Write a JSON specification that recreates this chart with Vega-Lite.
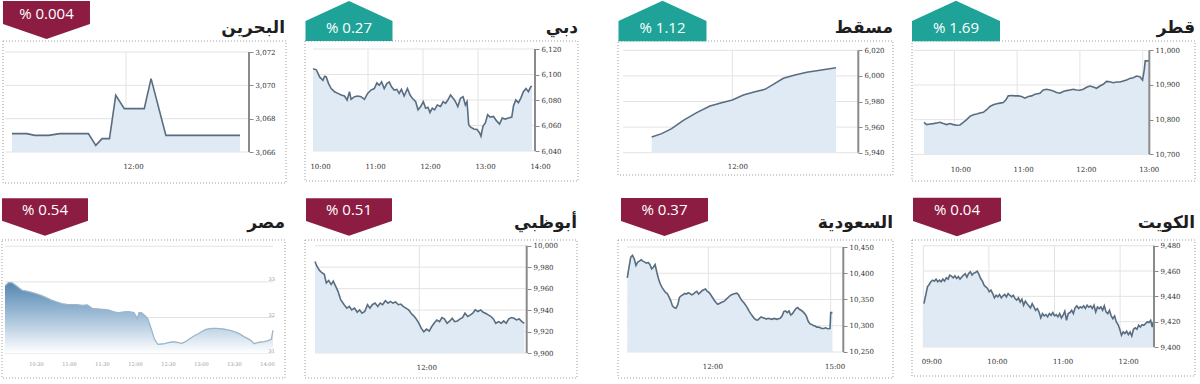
{
"$schema":"https://vega.github.io/schema/vega-lite/v6.json",
"padding":0,
"background":"white",
"config":{"view":{"stroke":null},"axis":{"domain":false,"grid":false,"labelFont":"DejaVu Serif","labelFontSize":7,"labelColor":"#333","tickColor":"#8a8a8a","tickSize":4,"labelPadding":2,"labelOverlap":false,"labelFlush":false,"labelBound":false,"zindex":1}},
"datasets":{
"bh":[{"t":10.0,"v":3067.1},{"t":10.26,"v":3067.1},{"t":10.4,"v":3067.0},{"t":10.64,"v":3067.0},{"t":10.84,"v":3067.1},{"t":11.34,"v":3067.1},{"t":11.47,"v":3066.4},{"t":11.58,"v":3066.8},{"t":11.71,"v":3066.8},{"t":11.82,"v":3069.4},{"t":11.97,"v":3068.6},{"t":12.32,"v":3068.6},{"t":12.44,"v":3070.4},{"t":12.7,"v":3067.0},{"t":14.0,"v":3067.0}],
"db":[{"t":10.0,"v":6104.5},{"t":10.06,"v":6103.7},{"t":10.12,"v":6098.1},{"t":10.181,"v":6095.5},{"t":10.211,"v":6098.6},{"t":10.241,"v":6098.1},{"t":10.283,"v":6092.9},{"t":10.331,"v":6089.0},{"t":10.392,"v":6086.5},{"t":10.452,"v":6085.2},{"t":10.512,"v":6083.9},{"t":10.572,"v":6083.1},{"t":10.62,"v":6080.0},{"t":10.663,"v":6086.5},{"t":10.693,"v":6080.5},{"t":10.753,"v":6082.6},{"t":10.813,"v":6083.1},{"t":10.873,"v":6082.6},{"t":10.934,"v":6080.5},{"t":10.994,"v":6085.2},{"t":11.054,"v":6087.8},{"t":11.114,"v":6089.0},{"t":11.163,"v":6093.4},{"t":11.205,"v":6091.6},{"t":11.247,"v":6094.2},{"t":11.295,"v":6089.0},{"t":11.343,"v":6092.9},{"t":11.386,"v":6094.2},{"t":11.428,"v":6090.3},{"t":11.476,"v":6087.8},{"t":11.524,"v":6088.3},{"t":11.566,"v":6085.2},{"t":11.608,"v":6088.3},{"t":11.657,"v":6083.1},{"t":11.717,"v":6089.0},{"t":11.765,"v":6083.9},{"t":11.807,"v":6081.3},{"t":11.867,"v":6078.7},{"t":11.91,"v":6072.3},{"t":11.958,"v":6074.9},{"t":12.006,"v":6078.7},{"t":12.048,"v":6073.6},{"t":12.09,"v":6074.3},{"t":12.127,"v":6070.2},{"t":12.169,"v":6073.6},{"t":12.211,"v":6072.3},{"t":12.259,"v":6076.1},{"t":12.319,"v":6074.9},{"t":12.367,"v":6078.7},{"t":12.41,"v":6077.4},{"t":12.452,"v":6080.0},{"t":12.5,"v":6083.9},{"t":12.548,"v":6081.3},{"t":12.59,"v":6078.7},{"t":12.633,"v":6074.9},{"t":12.681,"v":6081.3},{"t":12.729,"v":6082.6},{"t":12.771,"v":6076.1},{"t":12.801,"v":6078.7},{"t":12.831,"v":6060.7},{"t":12.861,"v":6058.9},{"t":12.922,"v":6057.3},{"t":12.982,"v":6056.8},{"t":13.03,"v":6054.2},{"t":13.054,"v":6051.6},{"t":13.09,"v":6059.4},{"t":13.133,"v":6062.0},{"t":13.175,"v":6068.4},{"t":13.223,"v":6066.6},{"t":13.283,"v":6067.1},{"t":13.331,"v":6064.0},{"t":13.392,"v":6061.2},{"t":13.44,"v":6065.8},{"t":13.494,"v":6065.0},{"t":13.554,"v":6065.8},{"t":13.614,"v":6066.6},{"t":13.645,"v":6075.4},{"t":13.687,"v":6080.0},{"t":13.735,"v":6077.9},{"t":13.777,"v":6081.3},{"t":13.825,"v":6086.5},{"t":13.873,"v":6089.0},{"t":13.916,"v":6086.5},{"t":13.958,"v":6090.3},{"t":13.982,"v":6090.8}],
"ms":[{"t":10.0,"v":5952.3},{"t":10.247,"v":5954.9},{"t":10.495,"v":5958.8},{"t":10.785,"v":5965.3},{"t":11.116,"v":5971.3},{"t":11.446,"v":5976.5},{"t":11.736,"v":5979.1},{"t":12.001,"v":5981.2},{"t":12.274,"v":5985.1},{"t":12.563,"v":5987.7},{"t":12.811,"v":5989.5},{"t":13.018,"v":5993.4},{"t":13.266,"v":5998.1},{"t":13.556,"v":6000.7},{"t":13.845,"v":6002.8},{"t":14.176,"v":6004.4},{"t":14.573,"v":6006.4}],
"qa":[{"t":9.517,"v":10792.4},{"t":9.56,"v":10785.7},{"t":9.613,"v":10787.6},{"t":9.666,"v":10788.6},{"t":9.719,"v":10790.5},{"t":9.772,"v":10792.4},{"t":9.825,"v":10788.6},{"t":9.878,"v":10785.7},{"t":9.931,"v":10788.6},{"t":9.984,"v":10785.7},{"t":10.037,"v":10783.8},{"t":10.09,"v":10784.8},{"t":10.143,"v":10792.4},{"t":10.196,"v":10800.0},{"t":10.249,"v":10809.5},{"t":10.302,"v":10814.3},{"t":10.355,"v":10816.2},{"t":10.408,"v":10819.0},{"t":10.462,"v":10821.0},{"t":10.515,"v":10828.6},{"t":10.568,"v":10838.1},{"t":10.621,"v":10842.9},{"t":10.674,"v":10845.7},{"t":10.727,"v":10847.6},{"t":10.78,"v":10849.5},{"t":10.822,"v":10857.1},{"t":10.859,"v":10868.6},{"t":10.912,"v":10869.5},{"t":10.966,"v":10868.6},{"t":11.019,"v":10868.6},{"t":11.072,"v":10866.7},{"t":11.125,"v":10861.9},{"t":11.178,"v":10866.7},{"t":11.231,"v":10868.6},{"t":11.284,"v":10873.3},{"t":11.363,"v":10876.2},{"t":11.416,"v":10885.7},{"t":11.469,"v":10887.6},{"t":11.523,"v":10885.7},{"t":11.576,"v":10882.9},{"t":11.629,"v":10878.1},{"t":11.682,"v":10876.2},{"t":11.735,"v":10881.0},{"t":11.788,"v":10883.8},{"t":11.841,"v":10885.7},{"t":11.894,"v":10887.6},{"t":11.947,"v":10885.7},{"t":12.0,"v":10884.8},{"t":12.053,"v":10887.6},{"t":12.106,"v":10893.3},{"t":12.159,"v":10897.1},{"t":12.212,"v":10894.3},{"t":12.265,"v":10890.5},{"t":12.318,"v":10897.1},{"t":12.371,"v":10901.9},{"t":12.424,"v":10910.5},{"t":12.477,"v":10909.5},{"t":12.531,"v":10906.7},{"t":12.584,"v":10908.6},{"t":12.637,"v":10908.6},{"t":12.69,"v":10911.4},{"t":12.743,"v":10914.3},{"t":12.796,"v":10919.0},{"t":12.849,"v":10921.0},{"t":12.902,"v":10925.7},{"t":12.955,"v":10923.8},{"t":12.997,"v":10914.3},{"t":13.024,"v":10942.9},{"t":13.04,"v":10969.5},{"t":13.1,"v":10969.5}],
"eg":[{"t":10.03,"v":32.885},{"t":10.082,"v":32.979},{"t":10.134,"v":32.979},{"t":10.187,"v":32.913},{"t":10.239,"v":32.838},{"t":10.291,"v":32.763},{"t":10.343,"v":32.745},{"t":10.421,"v":32.716},{"t":10.499,"v":32.67},{"t":10.577,"v":32.623},{"t":10.655,"v":32.557},{"t":10.733,"v":32.492},{"t":10.811,"v":32.436},{"t":10.889,"v":32.389},{"t":10.967,"v":32.37},{"t":11.045,"v":32.361},{"t":11.124,"v":32.361},{"t":11.202,"v":32.342},{"t":11.28,"v":32.351},{"t":11.358,"v":32.248},{"t":11.436,"v":32.239},{"t":11.514,"v":32.23},{"t":11.592,"v":32.211},{"t":11.67,"v":32.164},{"t":11.748,"v":32.127},{"t":11.826,"v":32.155},{"t":11.905,"v":32.164},{"t":11.983,"v":32.136},{"t":12.035,"v":31.977},{"t":12.061,"v":32.136},{"t":12.097,"v":32.136},{"t":12.139,"v":32.07},{"t":12.191,"v":31.977},{"t":12.243,"v":31.696},{"t":12.295,"v":31.387},{"t":12.347,"v":31.246},{"t":12.399,"v":31.256},{"t":12.451,"v":31.265},{"t":12.503,"v":31.293},{"t":12.555,"v":31.312},{"t":12.607,"v":31.312},{"t":12.659,"v":31.293},{"t":12.711,"v":31.275},{"t":12.764,"v":31.321},{"t":12.816,"v":31.387},{"t":12.868,"v":31.452},{"t":12.92,"v":31.509},{"t":12.972,"v":31.556},{"t":13.024,"v":31.621},{"t":13.076,"v":31.668},{"t":13.128,"v":31.687},{"t":13.18,"v":31.696},{"t":13.232,"v":31.696},{"t":13.284,"v":31.687},{"t":13.336,"v":31.677},{"t":13.388,"v":31.659},{"t":13.44,"v":31.64},{"t":13.492,"v":31.612},{"t":13.545,"v":31.574},{"t":13.597,"v":31.527},{"t":13.649,"v":31.462},{"t":13.701,"v":31.415},{"t":13.753,"v":31.359},{"t":13.805,"v":31.265},{"t":13.857,"v":31.293},{"t":13.909,"v":31.312},{"t":13.961,"v":31.321},{"t":14.013,"v":31.349},{"t":14.065,"v":31.387},{"t":14.091,"v":31.64}],
"ad":[{"t":10.0,"v":9985.2},{"t":10.033,"v":9981.1},{"t":10.086,"v":9977.0},{"t":10.132,"v":9974.8},{"t":10.178,"v":9973.3},{"t":10.217,"v":9965.4},{"t":10.263,"v":9967.6},{"t":10.309,"v":9963.8},{"t":10.349,"v":9967.0},{"t":10.395,"v":9962.3},{"t":10.441,"v":9957.5},{"t":10.493,"v":9949.7},{"t":10.559,"v":9945.0},{"t":10.612,"v":9941.8},{"t":10.658,"v":9943.4},{"t":10.704,"v":9940.2},{"t":10.757,"v":9941.8},{"t":10.809,"v":9938.0},{"t":10.855,"v":9940.2},{"t":10.901,"v":9937.1},{"t":10.954,"v":9938.7},{"t":11.007,"v":9945.0},{"t":11.053,"v":9941.8},{"t":11.099,"v":9945.0},{"t":11.151,"v":9946.5},{"t":11.204,"v":9943.4},{"t":11.25,"v":9946.5},{"t":11.296,"v":9945.0},{"t":11.349,"v":9948.7},{"t":11.401,"v":9946.5},{"t":11.447,"v":9948.1},{"t":11.493,"v":9946.5},{"t":11.546,"v":9947.5},{"t":11.599,"v":9945.0},{"t":11.645,"v":9945.6},{"t":11.691,"v":9943.4},{"t":11.743,"v":9941.8},{"t":11.796,"v":9940.2},{"t":11.842,"v":9937.1},{"t":11.888,"v":9934.9},{"t":11.941,"v":9931.8},{"t":11.993,"v":9927.7},{"t":12.039,"v":9922.9},{"t":12.086,"v":9919.8},{"t":12.138,"v":9922.3},{"t":12.191,"v":9920.4},{"t":12.237,"v":9924.5},{"t":12.283,"v":9927.7},{"t":12.336,"v":9930.8},{"t":12.388,"v":9929.2},{"t":12.434,"v":9933.0},{"t":12.48,"v":9931.8},{"t":12.533,"v":9927.7},{"t":12.586,"v":9929.9},{"t":12.632,"v":9932.4},{"t":12.678,"v":9929.2},{"t":12.73,"v":9929.9},{"t":12.783,"v":9931.8},{"t":12.829,"v":9933.0},{"t":12.875,"v":9937.1},{"t":12.928,"v":9934.0},{"t":12.98,"v":9935.5},{"t":13.026,"v":9937.1},{"t":13.072,"v":9940.2},{"t":13.125,"v":9938.7},{"t":13.178,"v":9940.2},{"t":13.224,"v":9938.0},{"t":13.27,"v":9937.1},{"t":13.322,"v":9935.5},{"t":13.375,"v":9934.0},{"t":13.421,"v":9931.8},{"t":13.467,"v":9927.7},{"t":13.52,"v":9929.2},{"t":13.572,"v":9927.7},{"t":13.618,"v":9929.9},{"t":13.665,"v":9927.7},{"t":13.717,"v":9931.8},{"t":13.77,"v":9933.0},{"t":13.816,"v":9932.4},{"t":13.862,"v":9930.8},{"t":13.915,"v":9931.8},{"t":13.967,"v":9929.2},{"t":14.013,"v":9927.7}],
"sa":[{"t":10.014,"v":10391.0},{"t":10.057,"v":10411.5},{"t":10.099,"v":10430.8},{"t":10.142,"v":10434.0},{"t":10.185,"v":10427.6},{"t":10.227,"v":10414.7},{"t":10.27,"v":10421.2},{"t":10.312,"v":10423.1},{"t":10.355,"v":10425.6},{"t":10.398,"v":10423.1},{"t":10.44,"v":10421.2},{"t":10.483,"v":10419.2},{"t":10.526,"v":10420.5},{"t":10.568,"v":10416.7},{"t":10.611,"v":10408.3},{"t":10.653,"v":10411.5},{"t":10.696,"v":10416.7},{"t":10.739,"v":10401.9},{"t":10.781,"v":10389.1},{"t":10.824,"v":10379.5},{"t":10.866,"v":10373.1},{"t":10.909,"v":10367.9},{"t":10.952,"v":10363.5},{"t":10.994,"v":10361.5},{"t":11.037,"v":10355.1},{"t":11.08,"v":10347.4},{"t":11.122,"v":10337.8},{"t":11.165,"v":10334.6},{"t":11.207,"v":10333.3},{"t":11.25,"v":10339.7},{"t":11.293,"v":10353.9},{"t":11.335,"v":10357.1},{"t":11.378,"v":10359.0},{"t":11.42,"v":10361.5},{"t":11.463,"v":10360.3},{"t":11.506,"v":10362.8},{"t":11.548,"v":10361.5},{"t":11.591,"v":10359.0},{"t":11.634,"v":10360.3},{"t":11.676,"v":10363.5},{"t":11.719,"v":10365.4},{"t":11.761,"v":10360.3},{"t":11.804,"v":10363.5},{"t":11.847,"v":10366.7},{"t":11.889,"v":10368.6},{"t":11.932,"v":10369.9},{"t":11.974,"v":10365.4},{"t":12.017,"v":10363.5},{"t":12.06,"v":10359.0},{"t":12.102,"v":10353.9},{"t":12.145,"v":10348.7},{"t":12.188,"v":10344.2},{"t":12.23,"v":10341.0},{"t":12.273,"v":10342.3},{"t":12.315,"v":10344.2},{"t":12.358,"v":10345.5},{"t":12.401,"v":10347.4},{"t":12.443,"v":10350.6},{"t":12.486,"v":10353.9},{"t":12.528,"v":10357.1},{"t":12.571,"v":10359.0},{"t":12.614,"v":10360.3},{"t":12.656,"v":10361.5},{"t":12.699,"v":10362.2},{"t":12.742,"v":10359.0},{"t":12.784,"v":10352.6},{"t":12.827,"v":10347.4},{"t":12.869,"v":10344.2},{"t":12.912,"v":10339.7},{"t":12.955,"v":10334.6},{"t":12.997,"v":10328.2},{"t":13.04,"v":10323.1},{"t":13.082,"v":10318.6},{"t":13.125,"v":10314.1},{"t":13.168,"v":10311.5},{"t":13.21,"v":10310.9},{"t":13.253,"v":10314.1},{"t":13.296,"v":10316.7},{"t":13.338,"v":10315.4},{"t":13.381,"v":10314.1},{"t":13.423,"v":10312.8},{"t":13.466,"v":10314.1},{"t":13.509,"v":10313.5},{"t":13.551,"v":10312.2},{"t":13.594,"v":10313.5},{"t":13.636,"v":10313.5},{"t":13.679,"v":10312.2},{"t":13.722,"v":10313.5},{"t":13.764,"v":10314.1},{"t":13.807,"v":10318.6},{"t":13.85,"v":10326.9},{"t":13.892,"v":10328.2},{"t":13.935,"v":10325.0},{"t":13.977,"v":10328.2},{"t":14.02,"v":10320.5},{"t":14.063,"v":10323.1},{"t":14.105,"v":10328.2},{"t":14.148,"v":10332.7},{"t":14.19,"v":10334.6},{"t":14.233,"v":10331.4},{"t":14.276,"v":10329.5},{"t":14.318,"v":10326.9},{"t":14.361,"v":10323.1},{"t":14.403,"v":10318.6},{"t":14.446,"v":10309.0},{"t":14.489,"v":10303.9},{"t":14.531,"v":10302.6},{"t":14.574,"v":10300.6},{"t":14.617,"v":10299.4},{"t":14.659,"v":10297.4},{"t":14.702,"v":10297.4},{"t":14.744,"v":10296.2},{"t":14.787,"v":10294.9},{"t":14.83,"v":10294.9},{"t":14.872,"v":10296.2},{"t":14.915,"v":10294.9},{"t":14.957,"v":10294.2},{"t":14.983,"v":10294.9},{"t":15.0,"v":10325.0},{"t":15.043,"v":10325.0}],
"kw":[{"t":9.01,"v":9434.3},{"t":9.037,"v":9440.9},{"t":9.063,"v":9447.5},{"t":9.089,"v":9449.4},{"t":9.115,"v":9451.5},{"t":9.141,"v":9452.8},{"t":9.168,"v":9452.0},{"t":9.194,"v":9453.6},{"t":9.22,"v":9451.5},{"t":9.246,"v":9452.8},{"t":9.272,"v":9451.5},{"t":9.298,"v":9453.6},{"t":9.325,"v":9452.0},{"t":9.351,"v":9454.7},{"t":9.377,"v":9453.6},{"t":9.403,"v":9456.8},{"t":9.429,"v":9456.0},{"t":9.456,"v":9454.7},{"t":9.482,"v":9456.2},{"t":9.508,"v":9454.1},{"t":9.534,"v":9455.7},{"t":9.56,"v":9453.6},{"t":9.586,"v":9455.2},{"t":9.613,"v":9456.8},{"t":9.639,"v":9457.8},{"t":9.665,"v":9455.2},{"t":9.691,"v":9458.1},{"t":9.717,"v":9459.4},{"t":9.744,"v":9456.8},{"t":9.77,"v":9458.4},{"t":9.796,"v":9458.9},{"t":9.822,"v":9459.9},{"t":9.848,"v":9457.3},{"t":9.874,"v":9454.1},{"t":9.901,"v":9452.0},{"t":9.927,"v":9448.8},{"t":9.953,"v":9447.5},{"t":9.979,"v":9446.2},{"t":10.005,"v":9443.6},{"t":10.031,"v":9444.9},{"t":10.058,"v":9442.2},{"t":10.084,"v":9438.8},{"t":10.11,"v":9440.9},{"t":10.136,"v":9439.6},{"t":10.162,"v":9441.5},{"t":10.189,"v":9438.8},{"t":10.215,"v":9440.4},{"t":10.241,"v":9441.5},{"t":10.267,"v":9439.6},{"t":10.293,"v":9442.2},{"t":10.319,"v":9440.9},{"t":10.346,"v":9439.6},{"t":10.372,"v":9440.9},{"t":10.398,"v":9438.3},{"t":10.424,"v":9437.0},{"t":10.45,"v":9438.8},{"t":10.477,"v":9435.6},{"t":10.503,"v":9437.8},{"t":10.529,"v":9433.0},{"t":10.555,"v":9436.2},{"t":10.581,"v":9434.3},{"t":10.607,"v":9432.5},{"t":10.634,"v":9430.9},{"t":10.66,"v":9434.3},{"t":10.686,"v":9431.7},{"t":10.712,"v":9429.0},{"t":10.738,"v":9430.4},{"t":10.764,"v":9427.7},{"t":10.791,"v":9423.0},{"t":10.817,"v":9426.4},{"t":10.843,"v":9424.6},{"t":10.869,"v":9425.6},{"t":10.895,"v":9423.8},{"t":10.922,"v":9426.4},{"t":10.948,"v":9425.1},{"t":10.974,"v":9427.2},{"t":11.0,"v":9424.6},{"t":11.026,"v":9425.6},{"t":11.052,"v":9423.8},{"t":11.079,"v":9426.4},{"t":11.105,"v":9423.0},{"t":11.131,"v":9425.1},{"t":11.157,"v":9428.3},{"t":11.183,"v":9421.1},{"t":11.209,"v":9426.4},{"t":11.236,"v":9427.2},{"t":11.262,"v":9429.0},{"t":11.288,"v":9426.4},{"t":11.314,"v":9430.9},{"t":11.34,"v":9432.5},{"t":11.367,"v":9430.4},{"t":11.393,"v":9431.7},{"t":11.419,"v":9430.9},{"t":11.445,"v":9432.5},{"t":11.471,"v":9430.4},{"t":11.497,"v":9433.0},{"t":11.524,"v":9431.4},{"t":11.55,"v":9432.5},{"t":11.576,"v":9430.4},{"t":11.602,"v":9433.0},{"t":11.628,"v":9427.7},{"t":11.655,"v":9431.7},{"t":11.681,"v":9430.4},{"t":11.707,"v":9431.7},{"t":11.733,"v":9429.0},{"t":11.759,"v":9432.5},{"t":11.785,"v":9427.7},{"t":11.812,"v":9426.4},{"t":11.838,"v":9429.0},{"t":11.864,"v":9424.6},{"t":11.89,"v":9422.4},{"t":11.916,"v":9424.6},{"t":11.942,"v":9419.8},{"t":11.969,"v":9417.7},{"t":11.995,"v":9414.0},{"t":12.021,"v":9409.2},{"t":12.047,"v":9411.9},{"t":12.073,"v":9410.6},{"t":12.1,"v":9412.4},{"t":12.126,"v":9409.8},{"t":12.152,"v":9411.9},{"t":12.178,"v":9408.7},{"t":12.204,"v":9414.0},{"t":12.231,"v":9415.1},{"t":12.257,"v":9414.0},{"t":12.283,"v":9417.2},{"t":12.309,"v":9415.8},{"t":12.335,"v":9417.7},{"t":12.361,"v":9417.2},{"t":12.388,"v":9418.5},{"t":12.414,"v":9419.8},{"t":12.44,"v":9419.3},{"t":12.466,"v":9421.1},{"t":12.49,"v":9415.8},{"t":12.505,"v":9419.8}]
},
"columns":4,"spacing":0,"bounds":"flush",
"concat":[
{"width":300,"height":192,"data":{"values":[{"name":"البحرين","change":"% 0.004"}]},"resolve":{"axis":{"x":"independent","y":"independent"}},
"layer":[
{"data":{"values":[{"v":3066},{"v":3068},{"v":3070},{"v":3072}]},"mark":{"type":"rule","color":"#e3e3e3"},"encoding":{"y":{"field":"v","type":"quantitative","axis":null},"x":{"datum":9.877,"type":"quantitative","axis":null},"x2":{"datum":14.158}}},
{"data":{"values":[{"t":12}]},"mark":{"type":"rule","color":"#e3e3e3"},"encoding":{"x":{"field":"t","type":"quantitative","axis":null},"y":{"datum":3066,"type":"quantitative","axis":null},"y2":{"datum":3072}}},
{"mark":{"type":"rect","fill":null,"stroke":"#9a9a9a","strokeDash":[1,2]},"encoding":{"x":{"datum":9.842,"type":"quantitative","axis":null},"x2":{"datum":14.807},"y":{"datum":3072.66,"type":"quantitative","axis":null},"y2":{"datum":3064.14}}},
{"data":{"name":"bh"},"mark":{"type":"area","color":"#dfeaf5"},"encoding":{"x":{"field":"t","type":"quantitative","scale":{"domain":[9.7895,15.0526],"nice":false,"zero":false},"axis":{"title":null,"orient":"bottom","offset":-27,"values":[12],"ticks":false,"tickSize":0,"labelPadding":0,"labelBaseline":"middle","labelOffset":7,"labelExpr":"(datum.value < 10 ? '0' : '') + datum.value + ':00'"}},"y":{"field":"v","type":"quantitative","scale":{"domain":[3063.54,3075.06],"nice":false,"zero":false},"axis":{"title":null,"orient":"right","offset":-51,"values":[3066,3068,3070,3072],"format":",d"}},"y2":{"datum":3066}}},
{"data":{"name":"bh"},"mark":{"type":"line","color":"#596d80","strokeWidth":1.6},"encoding":{"x":{"field":"t","type":"quantitative","axis":null},"y":{"field":"v","type":"quantitative","axis":null}}},
{"mark":{"type":"rule","color":"#8a8a8a","strokeWidth":2},"encoding":{"x":{"datum":14.158,"type":"quantitative","axis":null},"y":{"datum":3066,"type":"quantitative","axis":null},"y2":{"datum":3072}}},
{"mark":{"type":"point","shape":"M-1,-0.437L1,-0.437L1,0.09L0,0.437L-1,0.09Z","size":7569,"filled":true,"opacity":1,"color":"#8d1c43"},"encoding":{"x":{"datum":10.605,"type":"quantitative","axis":null},"y":{"datum":3073.92,"type":"quantitative","axis":null}}},
{"mark":{"type":"text","color":"white","font":"Open Sans","fontSize":15,"baseline":"middle"},"encoding":{"text":{"field":"change"},"x":{"datum":10.605,"type":"quantitative","axis":null},"y":{"datum":3074.28,"type":"quantitative","axis":null}}},
{"mark":{"type":"text","align":"right","baseline":"alphabetic","font":"DejaVu Sans","fontSize":17,"fontWeight":"bold","color":"#1e1e1e"},"encoding":{"text":{"field":"name"},"x":{"datum":14.7895,"type":"quantitative","axis":null},"y":{"datum":3073.14,"type":"quantitative","axis":null}}}
]},
{"width":300,"height":192,"data":{"values":[{"name":"دبي","change":"% 0.27"}]},"resolve":{"axis":{"x":"independent","y":"independent"}},
"layer":[
{"data":{"values":[{"v":6040},{"v":6060},{"v":6080},{"v":6100},{"v":6120}]},"mark":{"type":"rule","color":"#e3e3e3"},"encoding":{"y":{"field":"v","type":"quantitative","axis":null},"x":{"datum":10.0,"type":"quantitative","axis":null},"x2":{"datum":14.0364}}},
{"data":{"values":[{"t":11},{"t":12},{"t":13}]},"mark":{"type":"rule","color":"#e3e3e3"},"encoding":{"x":{"field":"t","type":"quantitative","axis":null},"y":{"datum":6040,"type":"quantitative","axis":null},"y2":{"datum":6120}}},
{"mark":{"type":"rect","fill":null,"stroke":"#9a9a9a","strokeDash":[1,2]},"encoding":{"x":{"datum":9.8545,"type":"quantitative","axis":null},"x2":{"datum":14.8181},"y":{"datum":6126.28,"type":"quantitative","axis":null},"y2":{"datum":6016.48}}},
{"data":{"name":"db"},"mark":{"type":"area","color":"#dfeaf5"},"encoding":{"x":{"field":"t","type":"quantitative","scale":{"domain":[9.7636,15.2182],"nice":false,"zero":false},"axis":{"title":null,"orient":"bottom","offset":-27,"values":[10,11,12,13,14],"ticks":false,"tickSize":0,"labelPadding":0,"labelBaseline":"middle","labelOffset":7,"labelExpr":"(datum.value < 10 ? '0' : '') + datum.value + ':00'"}},"y":{"field":"v","type":"quantitative","scale":{"domain":[6007.06,6157.65],"nice":false,"zero":false},"axis":{"title":null,"orient":"right","offset":-65,"values":[6040,6060,6080,6100,6120],"format":",d"}},"y2":{"datum":6040}}},
{"data":{"name":"db"},"mark":{"type":"line","color":"#596d80","strokeWidth":1.6},"encoding":{"x":{"field":"t","type":"quantitative","axis":null},"y":{"field":"v","type":"quantitative","axis":null}}},
{"mark":{"type":"rule","color":"#8a8a8a","strokeWidth":2},"encoding":{"x":{"datum":14.0364,"type":"quantitative","axis":null},"y":{"datum":6040,"type":"quantitative","axis":null},"y2":{"datum":6120}}},
{"mark":{"type":"point","shape":"M0,-0.46L1,0L1,0.46L-1,0.46L-1,0Z","size":7569,"filled":true,"opacity":1,"color":"#1fa398"},"encoding":{"x":{"datum":10.6545,"type":"quantitative","axis":null},"y":{"datum":6141.96,"type":"quantitative","axis":null}}},
{"mark":{"type":"text","color":"white","font":"Open Sans","fontSize":15,"baseline":"middle"},"encoding":{"text":{"field":"change"},"x":{"datum":10.6545,"type":"quantitative","axis":null},"y":{"datum":6136.47,"type":"quantitative","axis":null}}},
{"mark":{"type":"text","align":"right","baseline":"alphabetic","font":"DejaVu Sans","fontSize":17,"fontWeight":"bold","color":"#1e1e1e"},"encoding":{"text":{"field":"name"},"x":{"datum":14.8181,"type":"quantitative","axis":null},"y":{"datum":6132.55,"type":"quantitative","axis":null}}}
]},
{"width":300,"height":192,"data":{"values":[{"name":"مسقط","change":"% 1.12"}]},"resolve":{"axis":{"x":"independent","y":"independent"}},
"layer":[
{"data":{"values":[{"v":5940},{"v":5960},{"v":5980},{"v":6000},{"v":6020}]},"mark":{"type":"rule","color":"#e3e3e3"},"encoding":{"y":{"field":"v","type":"quantitative","axis":null},"x":{"datum":9.295,"type":"quantitative","axis":null},"x2":{"datum":15.126}}},
{"data":{"values":[{"t":12}]},"mark":{"type":"rule","color":"#e3e3e3"},"encoding":{"x":{"field":"t","type":"quantitative","axis":null},"y":{"datum":5940,"type":"quantitative","axis":null},"y2":{"datum":6020}}},
{"mark":{"type":"rect","fill":null,"stroke":"#9a9a9a","strokeDash":[1,2]},"encoding":{"x":{"datum":9.1637,"type":"quantitative","axis":null},"x2":{"datum":15.9875},"y":{"datum":6027.27,"type":"quantitative","axis":null},"y2":{"datum":5922.58}}},
{"data":{"name":"ms"},"mark":{"type":"area","color":"#dfeaf5"},"encoding":{"x":{"field":"t","type":"quantitative","scale":{"domain":[8.717,16.161],"nice":false,"zero":false},"axis":{"title":null,"orient":"bottom","offset":-27,"values":[12],"ticks":false,"tickSize":0,"labelPadding":0,"labelBaseline":"middle","labelOffset":5,"labelExpr":"(datum.value < 10 ? '0' : '') + datum.value + ':00'"}},"y":{"field":"v","type":"quantitative","scale":{"domain":[5908.52,6058.52],"nice":false,"zero":false},"axis":{"title":null,"orient":"right","offset":-42,"values":[5940,5960,5980,6000,6020],"format":",d"}},"y2":{"datum":5940}}},
{"data":{"name":"ms"},"mark":{"type":"line","color":"#596d80","strokeWidth":1.6},"encoding":{"x":{"field":"t","type":"quantitative","axis":null},"y":{"field":"v","type":"quantitative","axis":null}}},
{"mark":{"type":"rule","color":"#8a8a8a","strokeWidth":2},"encoding":{"x":{"datum":15.126,"type":"quantitative","axis":null},"y":{"datum":5940,"type":"quantitative","axis":null},"y2":{"datum":6020}}},
{"mark":{"type":"point","shape":"M0,-0.46L1,0L1,0.46L-1,0.46L-1,0Z","size":7744,"filled":true,"opacity":1,"color":"#1fa398"},"encoding":{"x":{"datum":10.268,"type":"quantitative","axis":null},"y":{"datum":6042.9,"type":"quantitative","axis":null}}},
{"mark":{"type":"text","color":"white","font":"Open Sans","fontSize":15,"baseline":"middle"},"encoding":{"text":{"field":"change"},"x":{"datum":10.268,"type":"quantitative","axis":null},"y":{"datum":6037.43,"type":"quantitative","axis":null}}},
{"mark":{"type":"text","align":"right","baseline":"alphabetic","font":"DejaVu Sans","fontSize":17,"fontWeight":"bold","color":"#1e1e1e"},"encoding":{"text":{"field":"name"},"x":{"datum":15.9875,"type":"quantitative","axis":null},"y":{"datum":6033.52,"type":"quantitative","axis":null}}}
]},
{"width":300,"height":192,"data":{"values":[{"name":"قطر","change":"% 1.69"}]},"resolve":{"axis":{"x":"independent","y":"independent"}},
"layer":[
{"data":{"values":[{"v":10700},{"v":10800},{"v":10900},{"v":11000}]},"mark":{"type":"rule","color":"#e3e3e3"},"encoding":{"y":{"field":"v","type":"quantitative","axis":null},"x":{"datum":9.3472,"type":"quantitative","axis":null},"x2":{"datum":13.1052}}},
{"data":{"values":[{"t":10},{"t":11},{"t":12},{"t":13}]},"mark":{"type":"rule","color":"#e3e3e3"},"encoding":{"x":{"field":"t","type":"quantitative","axis":null},"y":{"datum":10700,"type":"quantitative","axis":null},"y2":{"datum":11000}}},
{"mark":{"type":"rect","fill":null,"stroke":"#9a9a9a","strokeDash":[1,2]},"encoding":{"x":{"datum":9.3265,"type":"quantitative","axis":null},"x2":{"datum":13.8329},"y":{"datum":11026.9,"type":"quantitative","axis":null},"y2":{"datum":10623.0}}},
{"data":{"name":"qa"},"mark":{"type":"area","color":"#dfeaf5"},"encoding":{"x":{"field":"t","type":"quantitative","scale":{"domain":[9.1354,13.912],"nice":false,"zero":false},"axis":{"title":null,"orient":"bottom","offset":-24,"values":[10,11,12,13],"ticks":false,"tickSize":0,"labelPadding":0,"labelBaseline":"middle","labelOffset":6,"labelExpr":"(datum.value < 10 ? '0' : '') + datum.value + ':00'"}},"y":{"field":"v","type":"quantitative","scale":{"domain":[10588.4,11142.3],"nice":false,"zero":false},"axis":{"title":null,"orient":"right","offset":-51,"values":[10700,10800,10900,11000],"format":",d"}},"y2":{"datum":10700}}},
{"data":{"name":"qa"},"mark":{"type":"line","color":"#596d80","strokeWidth":1.6},"encoding":{"x":{"field":"t","type":"quantitative","axis":null},"y":{"field":"v","type":"quantitative","axis":null}}},
{"mark":{"type":"rule","color":"#8a8a8a","strokeWidth":2},"encoding":{"x":{"datum":13.1052,"type":"quantitative","axis":null},"y":{"datum":10700,"type":"quantitative","axis":null},"y2":{"datum":11000}}},
{"mark":{"type":"point","shape":"M0,-0.46L1,0L1,0.46L-1,0.46L-1,0Z","size":7744,"filled":true,"opacity":1,"color":"#1fa398"},"encoding":{"x":{"datum":10.0271,"type":"quantitative","axis":null},"y":{"datum":11084.6,"type":"quantitative","axis":null}}},
{"mark":{"type":"text","color":"white","font":"Open Sans","fontSize":15,"baseline":"middle"},"encoding":{"text":{"field":"change"},"x":{"datum":10.0271,"type":"quantitative","axis":null},"y":{"datum":11064.4,"type":"quantitative","axis":null}}},
{"mark":{"type":"text","align":"right","baseline":"alphabetic","font":"DejaVu Sans","fontSize":17,"fontWeight":"bold","color":"#1e1e1e"},"encoding":{"text":{"field":"name"},"x":{"datum":13.8329,"type":"quantitative","axis":null},"y":{"datum":11050.0,"type":"quantitative","axis":null}}}
]},
{"width":300,"height":192,"data":{"values":[{"name":"مصر","change":"% 0.54"}]},"resolve":{"axis":{"x":"independent","y":"independent"}},
"layer":[
{"data":{"values":[{"v":31},{"v":32},{"v":33},{"v":34}]},"mark":{"type":"rule","color":"#e3e3e3"},"encoding":{"y":{"field":"v","type":"quantitative","axis":null},"x":{"datum":10.0303,"type":"quantitative","axis":null},"x2":{"datum":14.0909}}},
{"mark":{"type":"rect","fill":null,"stroke":"#9a9a9a","strokeDash":[1,2]},"encoding":{"x":{"datum":9.9848,"type":"quantitative","axis":null},"x2":{"datum":14.2727},"y":{"datum":34.177,"type":"quantitative","axis":null},"y2":{"datum":30.3}}},
{"data":{"name":"eg"},"mark":{"type":"area","color":{"gradient":"linear","x1":0,"y1":0,"x2":0,"y2":1,"stops":[{"offset":0,"color":"#5586b0"},{"offset":0.5,"color":"#a6c2da"},{"offset":1,"color":"#ffffff"}]}},"encoding":{"x":{"field":"t","type":"quantitative","scale":{"domain":[9.9545,14.5],"nice":false,"zero":false},"axis":{"title":null,"orient":"bottom","offset":-22,"values":[10.5,11,11.5,12,12.5,13,13.5,14],"ticks":false,"tickSize":0,"labelPadding":0,"labelBaseline":"middle","labelFontSize":5,"labelColor":"#999","labelExpr":"floor(datum.value) + ':' + (datum.value % 1 ? '30' : '00')"}},"y":{"field":"v","type":"quantitative","scale":{"domain":[30.104,35.497],"nice":false,"zero":false},"axis":{"title":null,"orient":"right","offset":-32,"values":[31,32,33],"ticks":false,"tickSize":0,"labelPadding":0,"labelOffset":-3,"labelFontSize":5,"labelColor":"#999","format":"d","zindex":2}},"y2":{"datum":31}}},
{"data":{"name":"eg"},"mark":{"type":"line","color":"#9bb5ca","strokeWidth":1.3},"encoding":{"x":{"field":"t","type":"quantitative","axis":null},"y":{"field":"v","type":"quantitative","axis":null}}},
{"mark":{"type":"point","shape":"M-1,-0.437L1,-0.437L1,0.09L0,0.437L-1,0.09Z","size":7396,"filled":true,"opacity":1,"color":"#8d1c43"},"encoding":{"x":{"datum":10.6364,"type":"quantitative","axis":null},"y":{"datum":34.823,"type":"quantitative","axis":null}}},
{"mark":{"type":"text","color":"white","font":"Open Sans","fontSize":15,"baseline":"middle"},"encoding":{"text":{"field":"change"},"x":{"datum":10.6364,"type":"quantitative","axis":null},"y":{"datum":35.019,"type":"quantitative","axis":null}}},
{"mark":{"type":"text","align":"right","baseline":"alphabetic","font":"DejaVu Sans","fontSize":17,"fontWeight":"bold","color":"#1e1e1e"},"encoding":{"text":{"field":"name"},"x":{"datum":14.2727,"type":"quantitative","axis":null},"y":{"datum":34.514,"type":"quantitative","axis":null}}}
]},
{"width":300,"height":192,"data":{"values":[{"name":"أبوظبي","change":"% 0.51"}]},"resolve":{"axis":{"x":"independent","y":"independent"}},
"layer":[
{"data":{"values":[{"v":9900},{"v":9920},{"v":9940},{"v":9960},{"v":9980},{"v":10000}]},"mark":{"type":"rule","color":"#e3e3e3"},"encoding":{"y":{"field":"v","type":"quantitative","axis":null},"x":{"datum":10.0,"type":"quantitative","axis":null},"x2":{"datum":14.0595}}},
{"data":{"values":[{"t":12}]},"mark":{"type":"rule","color":"#e3e3e3"},"encoding":{"x":{"field":"t","type":"quantitative","axis":null},"y":{"datum":9900,"type":"quantitative","axis":null},"y2":{"datum":10000}}},
{"mark":{"type":"rect","fill":null,"stroke":"#9a9a9a","strokeDash":[1,2]},"encoding":{"x":{"datum":9.8083,"type":"quantitative","axis":null},"x2":{"datum":15.024},"y":{"datum":10005.3,"type":"quantitative","axis":null},"y2":{"datum":9876.7}}},
{"data":{"name":"ad"},"mark":{"type":"area","color":"#dfeaf5"},"encoding":{"x":{"field":"t","type":"quantitative","scale":{"domain":[9.7124,15.465],"nice":false,"zero":false},"axis":{"title":null,"orient":"bottom","offset":-18,"values":[12],"ticks":false,"tickSize":0,"labelPadding":0,"labelBaseline":"middle","labelOffset":7,"labelExpr":"(datum.value < 10 ? '0' : '') + datum.value + ':00'"}},"y":{"field":"v","type":"quantitative","scale":{"domain":[9870.2,10049.1],"nice":false,"zero":false},"axis":{"title":null,"orient":"right","offset":-73,"values":[9900,9920,9940,9960,9980,10000],"format":",d"}},"y2":{"datum":9900}}},
{"data":{"name":"ad"},"mark":{"type":"line","color":"#596d80","strokeWidth":1.6},"encoding":{"x":{"field":"t","type":"quantitative","axis":null},"y":{"field":"v","type":"quantitative","axis":null}}},
{"mark":{"type":"rule","color":"#8a8a8a","strokeWidth":2},"encoding":{"x":{"datum":14.0595,"type":"quantitative","axis":null},"y":{"datum":9900,"type":"quantitative","axis":null},"y2":{"datum":10000}}},
{"mark":{"type":"point","shape":"M-1,-0.437L1,-0.437L1,0.09L0,0.437L-1,0.09Z","size":7396,"filled":true,"opacity":1,"color":"#8d1c43"},"encoding":{"x":{"datum":10.652,"type":"quantitative","axis":null},"y":{"datum":10026.7,"type":"quantitative","axis":null}}},
{"mark":{"type":"text","color":"white","font":"Open Sans","fontSize":15,"baseline":"middle"},"encoding":{"text":{"field":"change"},"x":{"datum":10.652,"type":"quantitative","axis":null},"y":{"datum":10033.3,"type":"quantitative","axis":null}}},
{"mark":{"type":"text","align":"right","baseline":"alphabetic","font":"DejaVu Sans","fontSize":17,"fontWeight":"bold","color":"#1e1e1e"},"encoding":{"text":{"field":"name"},"x":{"datum":15.024,"type":"quantitative","axis":null},"y":{"datum":10016.5,"type":"quantitative","axis":null}}}
]},
{"width":300,"height":192,"data":{"values":[{"name":"السعودية","change":"% 0.37"}]},"resolve":{"axis":{"x":"independent","y":"independent"}},
"layer":[
{"data":{"values":[{"v":10250},{"v":10300},{"v":10350},{"v":10400},{"v":10450}]},"mark":{"type":"rule","color":"#e3e3e3"},"encoding":{"y":{"field":"v","type":"quantitative","axis":null},"x":{"datum":10.0,"type":"quantitative","axis":null},"x2":{"datum":15.3088}}},
{"data":{"values":[{"t":12},{"t":15}]},"mark":{"type":"rule","color":"#e3e3e3"},"encoding":{"x":{"field":"t","type":"quantitative","axis":null},"y":{"datum":10250,"type":"quantitative","axis":null},"y2":{"datum":10450}}},
{"mark":{"type":"rect","fill":null,"stroke":"#9a9a9a","strokeDash":[1,2]},"encoding":{"x":{"datum":9.7868,"type":"quantitative","axis":null},"x2":{"datum":16.527},"y":{"datum":10463.33,"type":"quantitative","axis":null},"y2":{"datum":10200.47}}},
{"data":{"name":"sa"},"mark":{"type":"area","color":"#dfeaf5"},"encoding":{"x":{"field":"t","type":"quantitative","scale":{"domain":[9.3456,16.6985],"nice":false,"zero":false},"axis":{"title":null,"orient":"bottom","offset":-19,"values":[12,15],"ticks":false,"tickSize":0,"labelPadding":0,"labelBaseline":"middle","labelOffset":4,"labelExpr":"(datum.value < 10 ? '0' : '') + datum.value + ':00'"}},"y":{"field":"v","type":"quantitative","scale":{"domain":[10187.14,10552.86],"nice":false,"zero":false},"axis":{"title":null,"orient":"right","offset":-57,"values":[10250,10300,10350,10400,10450],"format":",d"}},"y2":{"datum":10250}}},
{"data":{"name":"sa"},"mark":{"type":"line","color":"#596d80","strokeWidth":1.6},"encoding":{"x":{"field":"t","type":"quantitative","axis":null},"y":{"field":"v","type":"quantitative","axis":null}}},
{"mark":{"type":"rule","color":"#8a8a8a","strokeWidth":2},"encoding":{"x":{"datum":15.3088,"type":"quantitative","axis":null},"y":{"datum":10250,"type":"quantitative","axis":null},"y2":{"datum":10450}}},
{"mark":{"type":"point","shape":"M-1,-0.437L1,-0.437L1,0.09L0,0.437L-1,0.09Z","size":7569,"filled":true,"opacity":1,"color":"#8d1c43"},"encoding":{"x":{"datum":10.9265,"type":"quantitative","axis":null},"y":{"datum":10507.15,"type":"quantitative","axis":null}}},
{"mark":{"type":"text","color":"white","font":"Open Sans","fontSize":15,"baseline":"middle"},"encoding":{"text":{"field":"change"},"x":{"datum":10.9265,"type":"quantitative","axis":null},"y":{"datum":10520.48,"type":"quantitative","axis":null}}},
{"mark":{"type":"text","align":"right","baseline":"alphabetic","font":"DejaVu Sans","fontSize":17,"fontWeight":"bold","color":"#1e1e1e"},"encoding":{"text":{"field":"name"},"x":{"datum":16.527,"type":"quantitative","axis":null},"y":{"datum":10486.19,"type":"quantitative","axis":null}}}
]},
{"width":300,"height":192,"data":{"values":[{"name":"الكويت","change":"% 0.04"}]},"resolve":{"axis":{"x":"independent","y":"independent"}},
"layer":[
{"data":{"values":[{"v":9400},{"v":9420},{"v":9440},{"v":9460},{"v":9480}]},"mark":{"type":"rule","color":"#e3e3e3"},"encoding":{"y":{"field":"v","type":"quantitative","axis":null},"x":{"datum":9.0,"type":"quantitative","axis":null},"x2":{"datum":12.5168}}},
{"data":{"values":[{"t":9},{"t":10},{"t":11},{"t":12}]},"mark":{"type":"rule","color":"#e3e3e3"},"encoding":{"x":{"field":"t","type":"quantitative","axis":null},"y":{"datum":9400,"type":"quantitative","axis":null},"y2":{"datum":9480}}},
{"mark":{"type":"rect","fill":null,"stroke":"#9a9a9a","strokeDash":[1,2]},"encoding":{"x":{"datum":8.8277,"type":"quantitative","axis":null},"x2":{"datum":13.1418},"y":{"datum":9484.5,"type":"quantitative","axis":null},"y2":{"datum":9377.1}}},
{"data":{"name":"kw"},"mark":{"type":"area","color":"#dfeaf5"},"encoding":{"x":{"field":"t","type":"quantitative","scale":{"domain":[8.6448,13.218],"nice":false,"zero":false},"axis":{"title":null,"orient":"bottom","offset":-24,"values":[9,10,11,12],"ticks":false,"tickSize":0,"labelPadding":0,"labelBaseline":"middle","labelOffset":8,"labelExpr":"(datum.value < 10 ? '0' : '') + datum.value + ':00'"}},"y":{"field":"v","type":"quantitative","scale":{"domain":[9370.0,9521.62],"nice":false,"zero":false},"axis":{"title":null,"orient":"right","offset":-46,"values":[9400,9420,9440,9460,9480],"format":",d"}},"y2":{"datum":9400}}},
{"data":{"name":"kw"},"mark":{"type":"line","color":"#596d80","strokeWidth":1.6},"encoding":{"x":{"field":"t","type":"quantitative","axis":null},"y":{"field":"v","type":"quantitative","axis":null}}},
{"mark":{"type":"rule","color":"#8a8a8a","strokeWidth":2},"encoding":{"x":{"datum":12.5168,"type":"quantitative","axis":null},"y":{"datum":9400,"type":"quantitative","axis":null},"y2":{"datum":9480}}},
{"mark":{"type":"point","shape":"M-1,-0.437L1,-0.437L1,0.09L0,0.437L-1,0.09Z","size":7744,"filled":true,"opacity":1,"color":"#8d1c43"},"encoding":{"x":{"datum":9.5137,"type":"quantitative","axis":null},"y":{"datum":9502.67,"type":"quantitative","axis":null}}},
{"mark":{"type":"text","color":"white","font":"Open Sans","fontSize":15,"baseline":"middle"},"encoding":{"text":{"field":"change"},"x":{"datum":9.5137,"type":"quantitative","axis":null},"y":{"datum":9508.2,"type":"quantitative","axis":null}}},
{"mark":{"type":"text","align":"right","baseline":"alphabetic","font":"DejaVu Sans","fontSize":17,"fontWeight":"bold","color":"#1e1e1e"},"encoding":{"text":{"field":"name"},"x":{"datum":13.1418,"type":"quantitative","axis":null},"y":{"datum":9493.98,"type":"quantitative","axis":null}}}
]}
]
}
